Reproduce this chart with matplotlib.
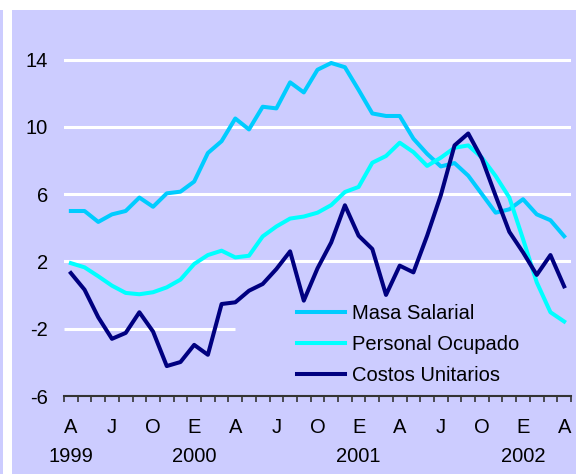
import matplotlib
matplotlib.use("Agg")
import matplotlib.pyplot as plt
from matplotlib.patches import Rectangle
from matplotlib.ticker import FixedLocator, NullFormatter
import matplotlib.transforms as mtransforms

plt.rcParams["font.family"] = ["Liberation Sans", "DejaVu Sans"]

# monthly data, April 1999 - April 2002
month_labels = ["A", "M", "J", "J", "A", "S", "O", "N", "D",
                "E", "F", "M", "A", "M", "J", "J", "A", "S", "O", "N", "D",
                "E", "F", "M", "A", "M", "J", "J", "A", "S", "O", "N", "D",
                "E", "F", "M", "A"]
years = ["1999", "2000", "2001", "2002"]
year_pos = [0, 9, 21, 33]

masa_salarial = [5.0, 5.0, 4.35, 4.8, 5.0, 5.8, 5.25, 6.05, 6.15, 6.75,
                 8.45, 9.15, 10.5, 9.85, 11.2, 11.1, 12.65, 12.05, 13.4, 13.8,
                 13.55, 12.2, 10.8, 10.65, 10.65, 9.3, 8.4, 7.65, 7.85, 7.1,
                 6.0, 4.9, 5.1, 5.7, 4.8, 4.45, 3.5]
personal_ocupado = [1.9, 1.65, 1.12, 0.56, 0.13, 0.05, 0.17, 0.46, 0.92, 1.85,
                    2.38, 2.64, 2.24, 2.34, 3.49, 4.08, 4.55, 4.67, 4.9, 5.35,
                    6.13, 6.43, 7.87, 8.27, 9.06, 8.5, 7.68, 8.17, 8.76, 8.9,
                    8.17, 7.08, 5.8, 3.33, 0.76, -1.02, -1.57]
costos_unitarios = [1.31, 0.32, -1.32, -2.6, -2.25, -1.02, -2.17, -4.22, -3.98, -2.96,
                    -3.55, -0.53, -0.43, 0.26, 0.66, 1.55, 2.6, -0.33, 1.59, 3.13,
                    5.34, 3.53, 2.74, 0.01, 1.75, 1.35, 3.53, 5.94, 8.9, 9.61,
                    8.11, 5.9, 3.76, 2.54, 1.2, 2.38, 0.52]

bg = "#CCCCFF"
x = list(range(len(month_labels)))

fig = plt.figure(figsize=(5.76, 4.74), dpi=100)
fig.patch.set_facecolor("white")
# lavender panel with white strip on the left and top
fig.patches.append(Rectangle((12 / 576, 0), 1, 464 / 474, transform=fig.transFigure,
                             facecolor=bg, edgecolor="none", zorder=-10))
fig.patches.append(Rectangle((0, 0), 3 / 576, 464 / 474, transform=fig.transFigure,
                             facecolor=bg, edgecolor="none", zorder=-10))

ax = fig.add_axes([64 / 576, 78 / 474, 507 / 576, 370 / 474])
ax.set_facecolor("none")

for v in [2, 6, 10, 14]:
    ax.axhline(v, color="white", lw=2.2, zorder=1)
ax.hlines(-2, -0.5, 12.0, color="white", lw=2.2, zorder=1)

ax.plot(x, masa_salarial, color="#00CCFF", lw=2.9, label="Masa Salarial", zorder=3)
ax.plot(x, personal_ocupado, color="#00FFFF", lw=2.9, label="Personal Ocupado", zorder=3)
ax.plot(x, costos_unitarios, color="#000080", lw=2.9, label="Costos Unitarios", zorder=4)

ax.set_xlim(-0.5, len(x) - 0.5)
ax.set_ylim(-6, 16)
ax.set_yticks([-6, -2, 2, 6, 10, 14])
ax.set_yticklabels(["-6", "-2", "2", "6", "10", "14"])
ax.tick_params(axis="y", length=0, pad=11.5, labelsize=14.5)

ax.set_xticks(x[::3])
ax.set_xticklabels(month_labels[::3])
ax.xaxis.set_minor_locator(FixedLocator([i - 0.5 for i in range(len(x) + 1)]))
ax.xaxis.set_minor_formatter(NullFormatter())
ax.tick_params(axis="x", which="major", length=0, pad=15.5, labelsize=14.5)
ax.tick_params(axis="x", which="minor", length=4, width=1.2, color="#333333", direction="out")

for s in ["top", "right", "left"]:
    ax.spines[s].set_visible(False)
ax.spines["bottom"].set_color("#333333")
ax.spines["bottom"].set_linewidth(1.5)

trans = mtransforms.blended_transform_factory(ax.transData, ax.transAxes)
for pos, yr in zip(year_pos, years):
    ax.text(pos, -0.163, yr, transform=trans, ha="center", va="center", fontsize=14.5)

ax.legend(loc="upper left", bbox_to_anchor=(297 / 576, 1 - 304 / 474),
          bbox_transform=fig.transFigure, frameon=False, fontsize=14.5,
          handlelength=2.4, handletextpad=0.35, labelspacing=0.6, borderpad=0,
          borderaxespad=0)

fig.savefig("out.png", dpi=100, facecolor=fig.get_facecolor())
